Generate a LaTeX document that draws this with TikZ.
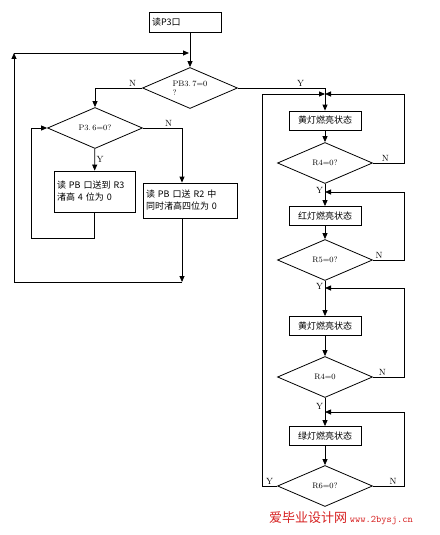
\documentclass[tikz,border=0pt]{standalone}
\usepackage{fontspec}
\newfontfamily\cjk{Noto Sans CJK SC}
\definecolor{markred}{RGB}{214,32,32}
\usetikzlibrary{shapes.geometric,arrows.meta}

\begin{document}
\begin{tikzpicture}[x=1pt, y=-1pt, line width=.8pt, >={Triangle[length=6pt,width=5pt]},
  box/.style={shape=rectangle, draw, minimum width=72pt, minimum height=19pt, inner sep=2pt, font=\cjk\fontsize{9}{12}\selectfont},
  decision/.style={shape=diamond, draw, aspect=2.3, inner sep=0pt, minimum width=95pt, minimum height=41pt, font=\fontsize{8}{9}\selectfont},
  lbl/.style={inner sep=1.5pt, font=\fontsize{9}{10}\selectfont}]
  \useasboundingbox (0,0) rectangle (439,535);

  \node[box, text width=67pt, align=left, minimum height=20pt] (start) at (185.5,22) {读P3口};
  \node[decision, align=left] (d1) at (190,88) {PB3.\,7=0\\?};
  \node[decision] (d2) at (95,128) {P3.\,6=0?};
  \node[box, text width=75pt, align=left, minimum height=41pt, inner sep=3pt] (b1) at (94.5,191.5) {读 PB 口送到 R3\\渚高 4 位为 0};
  \node[box, text width=88pt, align=left, minimum height=35pt, inner sep=3pt] (b2) at (190,200.5) {读 PB 口送 R2 中\\同时渚高四位为 0};
  \coordinate (c1) at (31,238);
  \coordinate (c2) at (182,282);
  \coordinate (c3) at (14,53);

  \node[box] (yellowA) at (325,120.5) {黄灯燃亮状态};
  \node[decision] (d3) at (325,163) {R4=0?};
  \node[box] (red) at (325,216) {红灯燃亮状态};
  \node[decision] (d4) at (325,260) {R5=0?};
  \node[box] (yellowB) at (325,326) {黄灯燃亮状态};
  \node[decision] (d5) at (325,377) {R4=0};
  \node[box] (green) at (325,436) {绿灯燃亮状态};
  \node[decision] (d6) at (325,486) {R6=0?};
  \coordinate (j1) at (325,94);
  \coordinate (j2) at (325,192);
  \coordinate (j3) at (325,288);
  \coordinate (j4) at (325,412);
  \coordinate (ll) at (262,0);
  \coordinate (rr) at (404,0);

  \draw[->] (start.south -| d1) -- (d1);
  \draw[->] (d1.west) -| node[lbl, above, pos=.1] {N} (d2);
  \draw[->] (d2) -- node[lbl, right] {Y} (b1);
  \draw[->] (d2.east) -| node[lbl, above, pos=.33] {N} (b2.north -| c2);
  \draw[->] (b1.south) |- (c1) |- (d2.west);
  \draw[->] (b2.south -| c2) -- (c2);
  \draw[->] (c2) -| (c3);
  \draw[->, shorten >=1pt] (c3) -- (c3 -| d1);

  \draw[->] (d1.east) -| node[lbl, above, pos=.36] {Y} (yellowA);
  \draw[->] (yellowA) -- (d3);
  \draw[->] (d3) -- node[lbl, left, pos=.3] {Y} (red);
  \draw[->] (red) -- (d4);
  \draw[->] (d4) -- node[lbl, left, pos=.17] {Y} (yellowB);
  \draw[->] (yellowB) -- (d5);
  \draw[->] (d5) -- node[lbl, left, pos=.3] {Y} (green);
  \draw[->] (green) -- (d6);

  \draw[->] (d3.east) -- node[lbl, above, pos=.4] {N} (d3.east -| rr) |- (j1);
  \draw[->] (d4.east) -- node[lbl, above, pos=.2] {N} (d4.east -| rr) |- (j2);
  \draw[->] (d5.east) -- node[lbl, above, pos=.3] {N} (d5.east -| rr) |- (j3);
  \draw[->] (d6.east) -- node[lbl, above, pos=.65] {N} (d6.east -| rr) |- (j4);
  \draw[->] (d6.west) -- node[lbl, above] {Y} (d6.west -| ll) |- (j1);

  \node[text=markred, inner sep=0pt] (mark) at (341,518) {\cjk\fontsize{13}{14}\selectfont 爱毕业设计网\ \ttfamily\fontsize{10}{12}\selectfont www.2bysj.cn};
\end{tikzpicture}
\end{document}
